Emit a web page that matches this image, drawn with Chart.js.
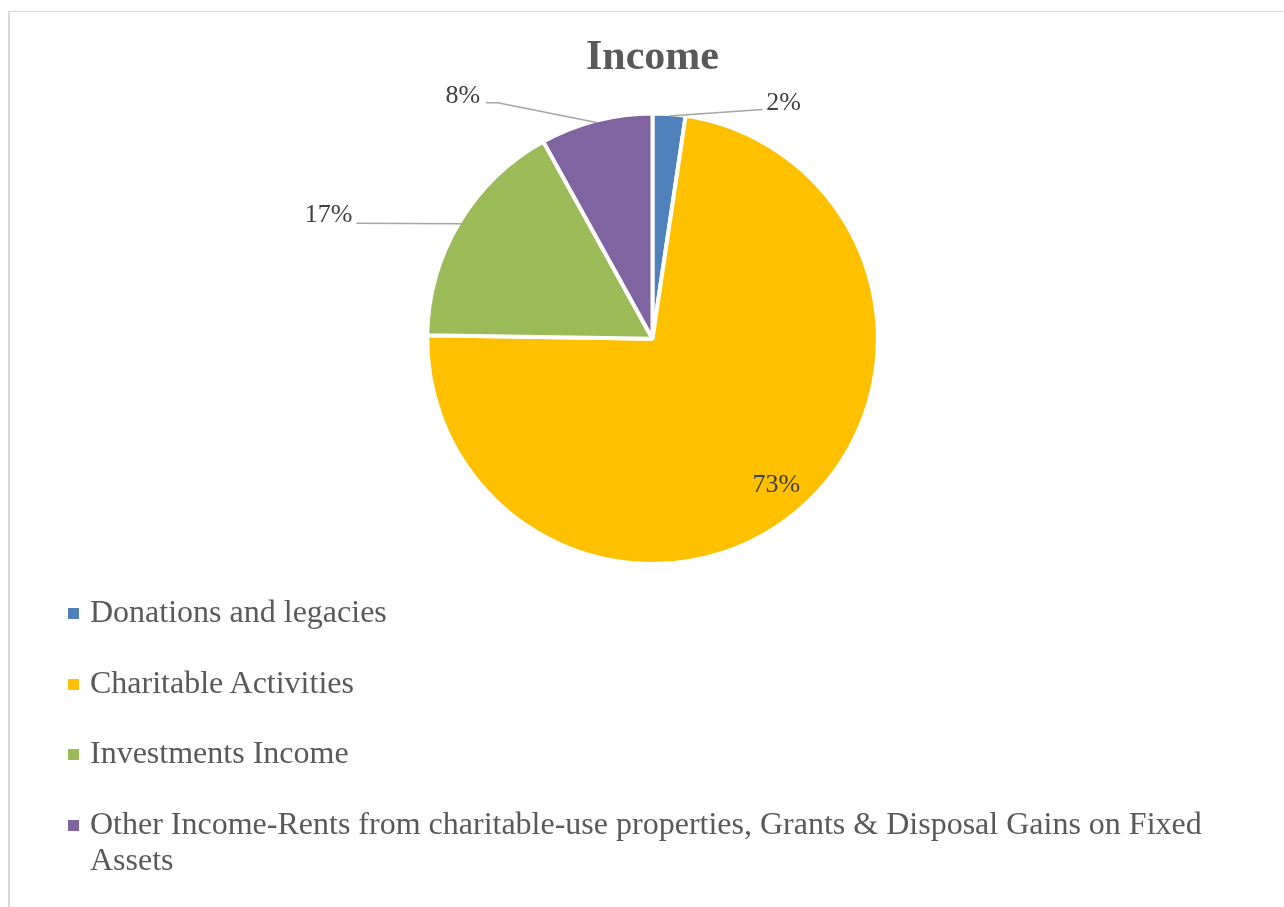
<!DOCTYPE html>
<html>
<head>
<meta charset="utf-8">
<title>Income</title>
<script src="https://cdn.jsdelivr.net/npm/chart.js@4.4.1/dist/chart.umd.min.js"></script>
<style>
  html, body { margin: 0; padding: 0; background: #fff; }
  body { width: 1284px; height: 907px; position: relative; overflow: hidden; font-family: 'Liberation Serif', 'Times New Roman', serif; }
  #marco { position: absolute; left: 8px; top: 11px; width: 1400px; height: 1000px; border-left: 2px solid #d9d9d9; border-top: 1px solid #d9d9d9; }
  #grafica { position: absolute; left: 0; top: 0; }
  #leyenda { position: absolute; left: 68px; top: 593px; width: 1180px; margin: 0; padding: 0; list-style: none; }
  #leyenda li { position: relative; padding-left: 22px; font-size: 32px; line-height: 36px; color: #595959; margin-bottom: 34.5px; }
  #leyenda li span { position: absolute; left: 0; top: 15px; width: 11px; height: 11px; }
</style>
</head>
<body>
<div id="marco"></div>
<canvas id="grafica" width="1284" height="600"></canvas>
<ul id="leyenda"></ul>

<script>
  // datos
  const categorias = [
    'Donations and legacies',
    'Charitable Activities',
    'Investments Income',
    'Other Income-Rents from charitable-use properties, Grants & Disposal Gains on Fixed Assets'
  ];
  const valores = [2.35, 72.9, 16.7, 8.05];
  const colores = ['#4f81bd', '#ffc000', '#9bbb59', '#8064a2'];

  (function(){
    const total = valores.reduce((a, b) => a + b, 0);

    // lineas guia de cada etiqueta (desplazamientos desde el borde del sector); null = dentro
    const guias = [
      { linea: [[93.5, -6.6]], texto: [114.5, -12.5] },
      null,
      { linea: [[-104.7, -0.7]], texto: [-132.4, -8.5] },
      { linea: [[-99, -19.7], [-110.7, -19.7]], texto: [-133.7, -26.5] }
    ];

    const etiquetasPlugin = {
      id: 'etiquetas',
      afterDatasetsDraw(chart) {
        const ctx = chart.ctx;
        const meta = chart.getDatasetMeta(0);
        meta.data.forEach((arco, i) => {
          const p = arco.getProps(['x', 'y', 'startAngle', 'endAngle', 'outerRadius'], true);
          const medio = (p.startAngle + p.endAngle) / 2;
          const texto = Math.round(valores[i] / total * 100) + '%';
          const guia = guias[i];
          ctx.save();
          ctx.font = "26px 'Liberation Serif', 'Times New Roman', serif";
          ctx.fillStyle = '#404040';
          ctx.textAlign = 'center';
          ctx.textBaseline = 'middle';
          if (!guia) {
            const r = p.outerRadius * 0.85;
            ctx.fillText(texto, p.x + r * Math.cos(medio), p.y + r * Math.sin(medio));
          } else {
            const r = p.outerRadius - 2;
            const bx = p.x + r * Math.cos(medio);
            const by = p.y + r * Math.sin(medio);
            ctx.beginPath();
            ctx.moveTo(bx, by);
            guia.linea.forEach(([dx, dy]) => ctx.lineTo(bx + dx, by + dy));
            ctx.strokeStyle = '#a6a6a6';
            ctx.lineWidth = 1.5;
            ctx.stroke();
            ctx.fillText(texto, bx + guia.texto[0], by + guia.texto[1]);
          }
          ctx.restore();
        });
      }
    };

    new Chart(document.getElementById('grafica'), {
      type: 'pie',
      data: {
        labels: categorias,
        datasets: [{
          data: valores,
          backgroundColor: colores,
          borderColor: '#ffffff',
          borderWidth: 4,
          hoverOffset: 0
        }]
      },
      options: {
        responsive: false,
        animation: false,
        events: [],
        layout: {
          padding: { left: 425, right: 404, top: 0, bottom: 34 }
        },
        plugins: {
          legend: { display: false },
          tooltip: { enabled: false },
          title: {
            display: true,
            text: 'Income',
            color: '#595959',
            font: { family: "'Liberation Serif', 'Times New Roman', serif", size: 42, weight: 'bold' },
            padding: { top: 33, bottom: 28 }
          }
        }
      },
      plugins: [etiquetasPlugin]
    });

    // leyenda
    const leyenda = document.getElementById('leyenda');
    categorias.forEach((nombre, i) => {
      const li = document.createElement('li');
      const marca = document.createElement('span');
      marca.style.background = colores[i];
      li.appendChild(marca);
      li.appendChild(document.createTextNode(nombre));
      leyenda.appendChild(li);
    });
  })();
</script>
</body>
</html>
